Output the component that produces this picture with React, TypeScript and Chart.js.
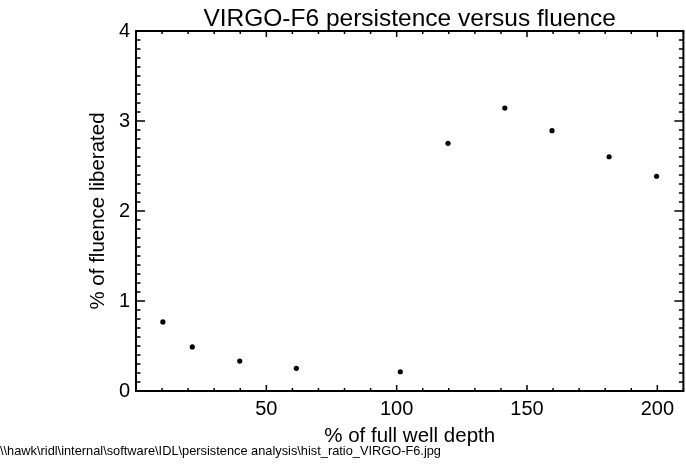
import React, { useEffect, useRef } from 'react';
import { Chart, registerables } from 'chart.js';

Chart.register(...registerables);

const titleText = 'VIRGO-F6 persistence versus fluence';
const xTitleText = '% of full well depth';
const yTitleText = '% of fluence liberated';
const footerText = '\\\\hawk\\ridl\\internal\\software\\IDL\\persistence analysis\\hist_ratio_VIRGO-F6.jpg';

const fullWellPct = [10.3, 21.6, 39.8, 61.5, 101.4, 119.7, 141.5, 159.6, 181.5, 199.7];
const fluenceLiberatedPct = [0.767, 0.49, 0.333, 0.252, 0.214, 2.752, 3.144, 2.892, 2.603, 2.386];

const xTickValues = [50, 100, 150, 200];
const yTickValues = [0, 1, 2, 3, 4];
const xRange = [0, 210];
const yRange = [0, 4];
const xMinorStep = 10;
const xMajorStep = 50;
const yMinorStep = 0.1;
const yMajorStep = 1;

const FONT = "'Liberation Sans', Arial, sans-serif";

const idlFramePlugin = {
  id: 'idlFrame',
  afterDraw(chart: any) {
    const { ctx, chartArea: a, scales } = chart;
    const x = scales.x;
    const y = scales.y;
    ctx.save();
    ctx.strokeStyle = '#000';
    ctx.lineWidth = 1.5;
    ctx.beginPath();
    const nx = Math.round((xRange[1] - xRange[0]) / xMinorStep);
    const perMajorX = Math.round(xMajorStep / xMinorStep);
    for (let i = 0; i <= nx; i++) {
      const v = xRange[0] + i * xMinorStep;
      const px = x.getPixelForValue(v);
      const len = i % perMajorX === 0 ? 6 : 3;
      ctx.moveTo(px, a.bottom);
      ctx.lineTo(px, a.bottom - len);
      ctx.moveTo(px, a.top);
      ctx.lineTo(px, a.top + len);
    }
    const ny = Math.round((yRange[1] - yRange[0]) / yMinorStep);
    const perMajorY = Math.round(yMajorStep / yMinorStep);
    for (let i = 0; i <= ny; i++) {
      const v = yRange[0] + i * yMinorStep;
      const py = y.getPixelForValue(v);
      const len = i % perMajorY === 0 ? 9 : 4.5;
      ctx.moveTo(a.left, py);
      ctx.lineTo(a.left + len, py);
      ctx.moveTo(a.right, py);
      ctx.lineTo(a.right - len, py);
    }
    ctx.stroke();
    ctx.lineWidth = 2;
    ctx.strokeRect(a.left, a.top, a.right - a.left, a.bottom - a.top);
    ctx.restore();
  },
};

export default function App() {
  const ref = useRef<HTMLCanvasElement>(null);

  useEffect(() => {
    if (!ref.current) return;
    const chart = new Chart(ref.current, {
      type: 'scatter',
      data: {
        datasets: [
          {
            label: 'persistence',
            data: fullWellPct.map((xv, i) => ({ x: xv, y: fluenceLiberatedPct[i] })),
            pointRadius: 2.6,
            pointHoverRadius: 2.6,
            pointBackgroundColor: '#000',
            pointBorderColor: '#000',
            pointBorderWidth: 0,
            showLine: false,
          },
        ],
      },
      options: {
        responsive: false,
        animation: false,
        color: '#000',
        layout: { padding: { left: 0, right: 2, top: 0, bottom: 0 } },
        plugins: {
          legend: { display: false },
          tooltip: { enabled: false },
          title: {
            display: true,
            text: titleText,
            color: '#000',
            fullSize: false,
            font: { family: FONT, size: 24.5, weight: 'normal', lineHeight: 1 },
            padding: { top: 6.5, bottom: 0 },
          },
          subtitle: {
            display: true,
            text: footerText,
            position: 'bottom',
            align: 'start',
            color: '#000',
            font: { family: FONT, size: 12.8, weight: 'normal', lineHeight: 1 },
            padding: { top: 0, bottom: 7.5 },
          },
        },
        scales: {
          x: {
            type: 'linear',
            min: xRange[0],
            max: xRange[1],
            afterBuildTicks: (s: any) => {
              s.ticks = xTickValues.map((v) => ({ value: v }));
            },
            afterFit: (s: any) => {
              s.height = 53.7;
            },
            grid: { display: false, drawTicks: false },
            border: { display: false },
            ticks: {
              color: '#000',
              padding: 6,
              maxRotation: 0,
              autoSkip: false,
              font: { family: FONT, size: 20 },
              callback: (v: any) => String(v),
            },
            title: {
              display: true,
              text: xTitleText,
              color: '#000',
              font: { family: FONT, size: 20.5, lineHeight: 0.85 },
              padding: { top: 0, bottom: 0 },
            },
          },
          y: {
            type: 'linear',
            min: yRange[0],
            max: yRange[1],
            afterBuildTicks: (s: any) => {
              s.ticks = yTickValues.map((v) => ({ value: v }));
            },
            afterFit: (s: any) => {
              s.width = 136;
            },
            grid: { display: false, drawTicks: false },
            border: { display: false },
            ticks: {
              color: '#000',
              padding: 6,
              autoSkip: false,
              font: { family: FONT, size: 20 },
              callback: (v: any) => String(v),
            },
            title: {
              display: true,
              text: yTitleText,
              color: '#000',
              font: { family: FONT, size: 20.5, lineHeight: 1 },
              padding: { top: 87.75, bottom: 0 },
            },
          },
        },
      },
      plugins: [idlFramePlugin],
    } as any);
    return () => chart.destroy();
  }, []);

  return (
    <div style={{ position: 'fixed', left: 0, top: 0, width: 686, height: 465, background: '#fff' }}>
      <canvas ref={ref} width={686} height={465} style={{ display: 'block' }} />
    </div>
  );
}
